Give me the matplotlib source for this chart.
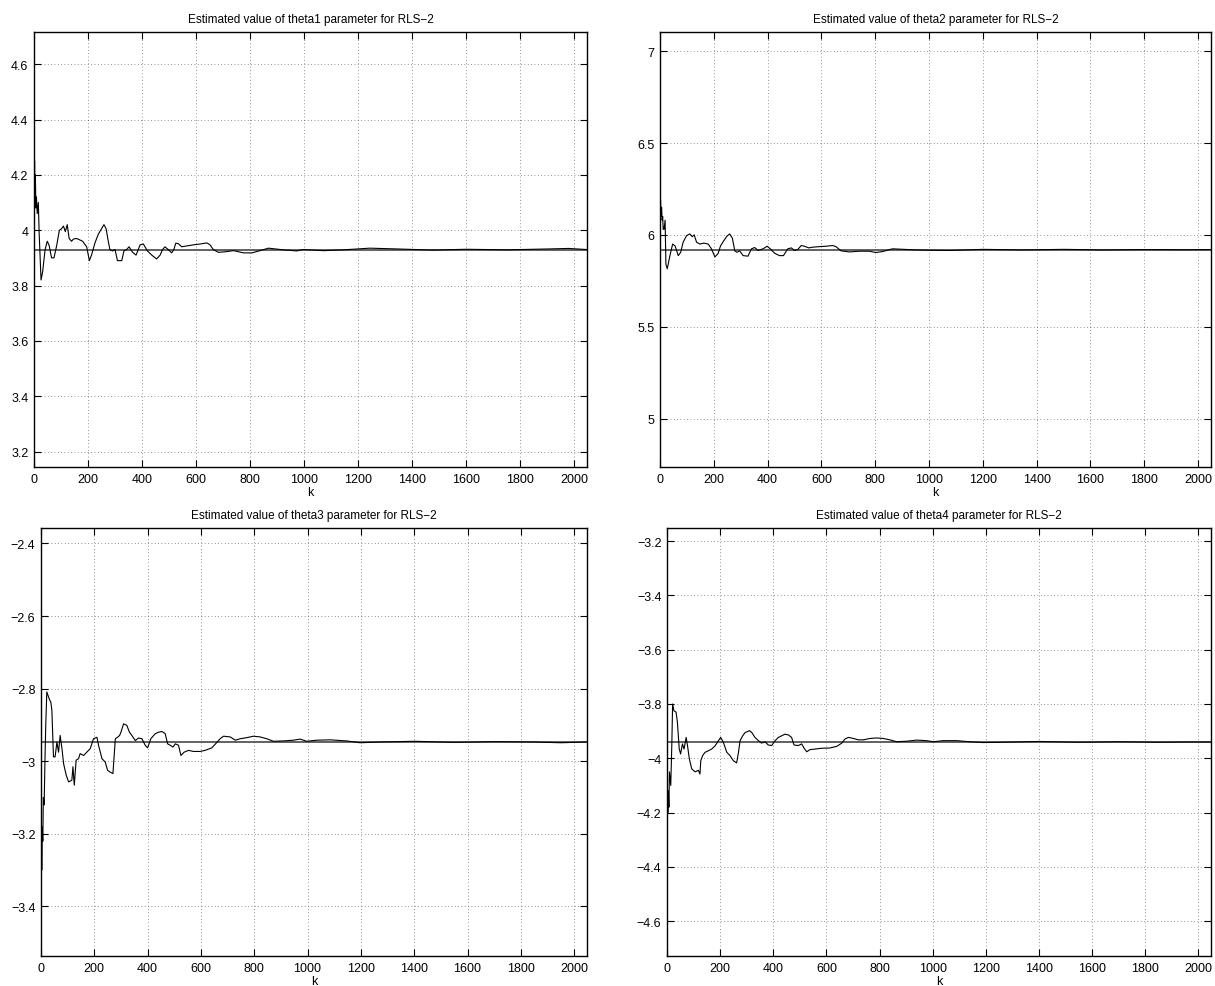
#!/usr/bin/env python3
'''
RLS-2 parameter estimates (theta1..theta4) vs. sample index k
'''

import matplotlib
matplotlib.use("Agg")
import matplotlib.pyplot as plt
from matplotlib.ticker import FuncFormatter
import numpy as np

plt.rcParams['font.family'] = ['Liberation Sans', 'DejaVu Sans']
plt.rcParams['axes.unicode_minus'] = True

K_MAX = 2048

# true parameter values (horizontal reference lines)
theta_true = [3.93, 5.92, -2.947, -3.94]

# estimated trajectories as (k, value)
theta1_k = [1, 2, 3, 5, 7, 9, 12, 16, 19, 26, 32, 41, 49, 56, 65, 74, 84, 94, 102,
            109, 116, 123, 130, 139, 146, 158, 180, 195, 205, 213, 226, 238, 247,
            259, 267, 275, 281, 291, 300, 309, 325, 333, 343, 352, 365, 378, 393,
            405, 420, 436, 454, 467, 476, 485, 497, 510, 518, 525, 535, 547, 559,
            572, 590, 615, 640, 652, 664, 683, 708, 739, 776, 807, 837, 868, 923,
            973, 997, 1072, 1146, 1244, 1350, 1480, 1600, 1750, 1900, 1980, 2048]
theta1_v = [4.05, 4.25, 4.12, 4.20, 4.08, 4.12, 4.06, 4.10, 3.99, 3.82, 3.85, 3.93,
            3.96, 3.945, 3.90, 3.90, 3.945, 4.00, 4.005, 4.015, 3.995, 4.02, 3.97,
            3.96, 3.968, 3.97, 3.96, 3.94, 3.89, 3.91, 3.955, 3.985, 4.00, 4.02,
            4.005, 3.96, 3.93, 3.925, 3.93, 3.89, 3.89, 3.925, 3.93, 3.94, 3.92,
            3.91, 3.947, 3.95, 3.925, 3.91, 3.896, 3.91, 3.93, 3.94, 3.93, 3.918,
            3.93, 3.953, 3.951, 3.94, 3.942, 3.944, 3.947, 3.95, 3.954, 3.947, 3.93,
            3.92, 3.922, 3.926, 3.918, 3.918, 3.926, 3.935, 3.929, 3.925, 3.93,
            3.926, 3.929, 3.935, 3.932, 3.928, 3.931, 3.929, 3.932, 3.934, 3.930]

theta2_k = [1, 2, 4, 6, 8, 10, 12, 15, 19, 22, 27, 37, 47, 56, 68, 77, 86, 99, 111,
            120, 127, 136, 148, 163, 179, 191, 204, 216, 225, 237, 249, 259, 269,
            278, 286, 296, 309, 327, 340, 352, 364, 383, 398, 410, 426, 444, 459,
            475, 488, 500, 512, 525, 537, 553, 568, 593, 617, 642, 654, 673, 704,
            741, 778, 802, 827, 864, 951, 1010, 1080, 1200, 1350, 1500, 1650, 1800,
            1950, 2048]
theta2_v = [6.05, 6.19, 6.10, 6.15, 6.08, 6.10, 6.03, 6.03, 6.08, 5.84, 5.815, 5.887,
            5.95, 5.94, 5.887, 5.905, 5.96, 5.996, 6.005, 5.99, 6.00, 5.96, 5.95,
            5.955, 5.95, 5.925, 5.88, 5.898, 5.94, 5.968, 5.993, 6.005, 5.982,
            5.913, 5.905, 5.913, 5.887, 5.884, 5.924, 5.931, 5.915, 5.924, 5.938,
            5.924, 5.900, 5.887, 5.887, 5.924, 5.929, 5.915, 5.920, 5.942, 5.938,
            5.929, 5.933, 5.936, 5.938, 5.942, 5.936, 5.913, 5.907, 5.911, 5.911,
            5.904, 5.909, 5.924, 5.918, 5.916, 5.915, 5.921, 5.918, 5.921, 5.918,
            5.920, 5.919, 5.920]

theta3_k = [1, 3, 5, 7, 9, 12, 15, 18, 22, 32, 37, 41, 47, 53, 60, 66, 72, 79, 85,
            95, 104, 116, 120, 125, 132, 141, 147, 160, 172, 185, 197, 210, 216,
            229, 241, 250, 260, 270, 279, 287, 295, 300, 310, 322, 332, 341, 354,
            366, 379, 391, 400, 412, 429, 441, 454, 466, 475, 485, 495, 504, 516,
            525, 537, 554, 572, 597, 616, 641, 660, 672, 685, 710, 729, 747, 772,
            797, 822, 847, 872, 910, 947, 972, 997, 1035, 1085, 1147, 1197, 1272,
            1400, 1550, 1700, 1850, 1950, 2048]
theta3_v = [-3.12, -3.30, -3.18, -3.22, -3.10, -3.12, -3.00, -2.90, -2.809, -2.83,
            -2.837, -2.86, -2.988, -2.988, -2.947, -2.975, -2.929, -2.966, -3.007,
            -3.039, -3.057, -3.052, -3.015, -3.066, -2.997, -2.993, -2.979, -2.984,
            -2.975, -2.965, -2.938, -2.934, -2.956, -2.993, -3.002, -3.025, -3.030,
            -3.034, -2.938, -2.934, -2.929, -2.920, -2.897, -2.901, -2.920, -2.929,
            -2.943, -2.936, -2.938, -2.956, -2.963, -2.938, -2.924, -2.920, -2.918,
            -2.924, -2.952, -2.956, -2.961, -2.952, -2.956, -2.984, -2.975, -2.970,
            -2.973, -2.973, -2.970, -2.963, -2.948, -2.938, -2.931, -2.933, -2.942,
            -2.938, -2.935, -2.931, -2.933, -2.938, -2.945, -2.944, -2.942, -2.939,
            -2.945, -2.942, -2.941, -2.944, -2.949, -2.947, -2.945, -2.948, -2.946,
            -2.947, -2.949, -2.947]

theta4_k = [1, 3, 5, 7, 9, 14, 18, 21, 26, 34, 39, 46, 51, 58, 64, 72, 77, 84, 93,
            106, 118, 124, 127, 134, 143, 156, 168, 181, 193, 202, 212, 225, 237,
            250, 262, 269, 275, 285, 294, 302, 310, 319, 331, 344, 356, 369, 381,
            394, 407, 419, 432, 444, 457, 469, 478, 494, 507, 516, 526, 538, 557,
            582, 613, 639, 658, 670, 683, 702, 720, 739, 764, 789, 814, 839, 865,
            903, 940, 977, 1003, 1040, 1090, 1140, 1191, 1260, 1400, 1550, 1700,
            1850, 1950, 2048]
theta4_v = [-4.10, -4.20, -4.12, -4.18, -4.05, -4.10, -3.95, -3.80, -3.825, -3.83,
            -3.867, -3.966, -3.984, -3.947, -3.966, -3.923, -3.953, -4.002, -4.039,
            -4.050, -4.044, -4.058, -4.009, -3.990, -3.978, -3.972, -3.966, -3.954,
            -3.936, -3.923, -3.941, -3.978, -3.990, -4.009, -4.017, -3.978, -3.935,
            -3.917, -3.905, -3.902, -3.898, -3.905, -3.923, -3.935, -3.944, -3.939,
            -3.951, -3.953, -3.935, -3.923, -3.917, -3.911, -3.914, -3.923, -3.951,
            -3.953, -3.947, -3.963, -3.976, -3.968, -3.966, -3.963, -3.962, -3.956,
            -3.944, -3.929, -3.923, -3.927, -3.932, -3.932, -3.927, -3.925, -3.927,
            -3.932, -3.939, -3.937, -3.933, -3.935, -3.939, -3.935, -3.935, -3.939,
            -3.942, -3.941, -3.938, -3.941, -3.939, -3.941, -3.940, -3.940]

titles = ["Estimated value of theta%d parameter for RLS\u22122" % i for i in range(1, 5)]
yticks = [np.arange(3.2, 4.61, 0.2), np.arange(5.0, 7.01, 0.5),
          np.arange(-3.4, -2.39, 0.2), np.arange(-4.6, -3.19, 0.2)]
xticks = np.arange(0, 2001, 200)

# axes boxes in figure fractions: left, bottom, width, height
positions = [[0.028, 0.5258, 0.4551, 0.4407],
             [0.5432, 0.5258, 0.4535, 0.4407],
             [0.0337, 0.0304, 0.4494, 0.4336],
             [0.549, 0.0304, 0.4477, 0.4336]]

series = [(theta1_k, theta1_v), (theta2_k, theta2_v),
          (theta3_k, theta3_v), (theta4_k, theta4_v)]


def fmt(v, pos):
    return ("%g" % round(v, 4)).replace("-", "\u2212")


fig = plt.figure(figsize=(12.15, 9.87), dpi=100)
for i in range(4):
    ax = fig.add_axes(positions[i])
    th = theta_true[i]
    ks, vs = series[i]
    ax.plot([0, K_MAX], [th, th], color='#555555', lw=1.3, zorder=2)
    ax.plot(ks, vs, color='black', lw=0.8, zorder=3)
    ax.set_xlim(0, K_MAX)
    ax.set_ylim(th - 0.2 * abs(th), th + 0.2 * abs(th))
    ax.set_xticks(xticks)
    ax.set_yticks(yticks[i])
    ax.yaxis.set_major_formatter(FuncFormatter(fmt))
    ax.xaxis.set_major_formatter(FuncFormatter(fmt))
    ax.grid(True, linestyle=(0, (1, 3)), color='#333333', lw=0.6, alpha=0.7)
    ax.tick_params(direction='in', length=5, width=0.8, labelsize=9,
                   top=True, right=True, pad=4, colors='black')
    for sp in ax.spines.values():
        sp.set_linewidth(1.0)
    ax.set_title(titles[i], fontsize=8.5, pad=7)
    ax.set_xlabel("k", fontsize=9, labelpad=1)

fig.savefig("out.png", dpi=100)
